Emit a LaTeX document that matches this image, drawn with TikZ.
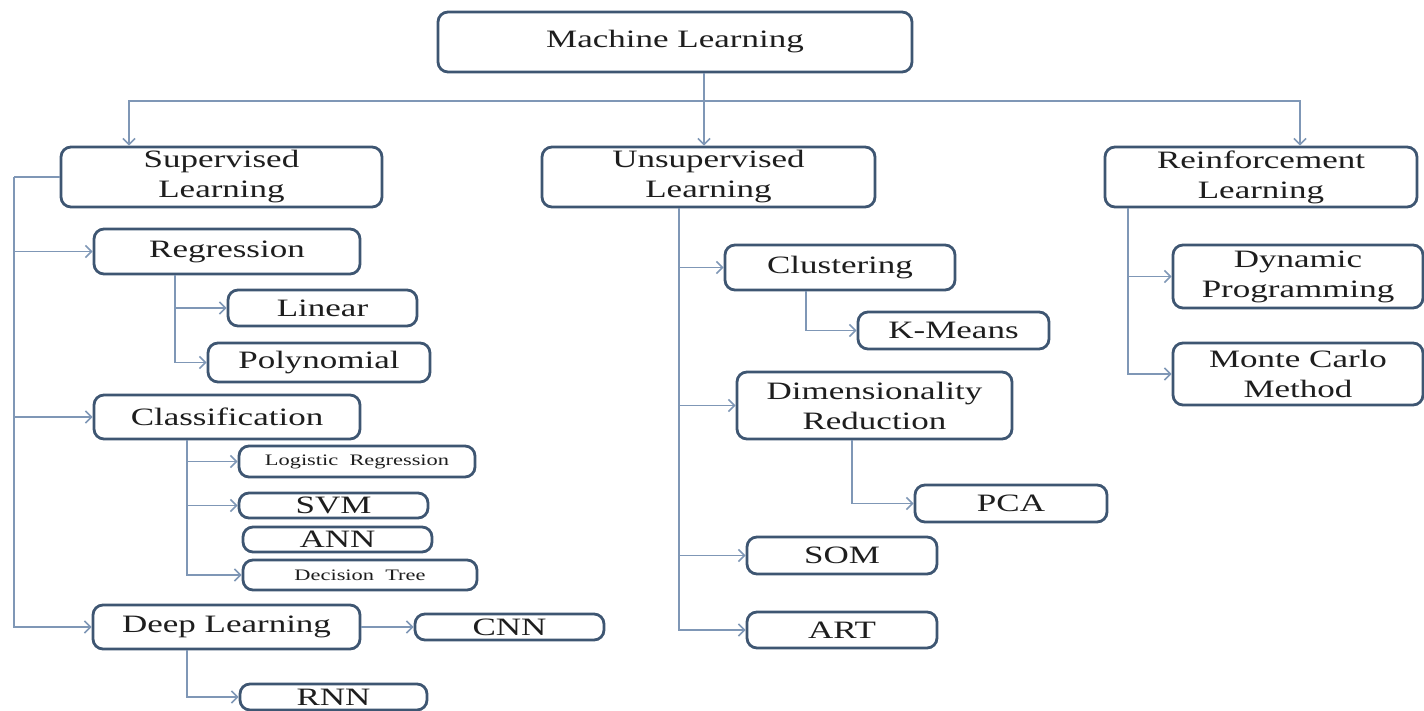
\documentclass[tikz,border=0pt]{standalone}
\usepackage{fontspec}
\setmainfont{Liberation Serif}[FakeStretch=1.4]
\usetikzlibrary{positioning}
\usetikzlibrary{arrows.meta}
\definecolor{boxline}{HTML}{3E5672}
\definecolor{connline}{HTML}{7F97B6}
\definecolor{txt}{HTML}{1E1E1E}

\begin{document}
\begin{tikzpicture}[x = 0.5pt, y = -0.5pt,
					box/.style = {draw = boxline, line width = 1.4pt, rounded corners = 5pt, fill = white, text = txt, inner sep = 0pt, align = center, font = \fontsize{12.5}{15}\selectfont},
					smallbox/.style = {box, font = \fontsize{8}{10}\selectfont},
					conn/.style = {draw = connline, line width = 0.8pt},
					tip/.style = {conn, -{Straight Barb[length = 3pt, width = 6pt]}}]
					\useasboundingbox (0, 0) rectangle (1424, 711);
					% top level
					\node [box, minimum width = 237pt, minimum height = 30pt] (ml) at (675, 42) {Machine Learning};
					\node [box, minimum width = 160.5pt, minimum height = 30pt] (sl) at (221.5, 177) {Supervised\\Learning};
					\node [box, minimum width = 166.5pt, minimum height = 30pt] (ul) at (708.5, 177) {Unsupervised\\Learning};
					\node [box, minimum width = 156pt, minimum height = 30pt] (rl) at (1261, 177) {Reinforcement\\Learning};
					% supervised
					\node [box, minimum width = 133pt, minimum height = 22.5pt] (reg) at (227, 251.5) {Regression};
					\node [box, minimum width = 94.5pt, minimum height = 18pt] (lin) at (322.5, 308) {Linear};
					\node [box, minimum width = 111pt, minimum height = 19.5pt] (poly) at (319, 362.5) {Polynomial};
					\node [box, minimum width = 133pt, minimum height = 22pt] (cls) at (227, 417) {Classification};
					\node [smallbox, minimum width = 118pt, minimum height = 15.5pt] (logr) at (357, 461.5) {Logistic~~Regression};
					\node [box, minimum width = 94.5pt, minimum height = 12.5pt] (svm) at (333.5, 505.5) {SVM};
					\node [box, minimum width = 94.5pt, minimum height = 12.5pt] (ann) at (337.5, 539.5) {ANN};
					\node [smallbox, minimum width = 117pt, minimum height = 15pt] (dt) at (360, 575) {Decision~~Tree};
					\node [box, minimum width = 133.5pt, minimum height = 22pt] (dl) at (226.5, 627) {Deep Learning};
					\node [box, minimum width = 94.5pt, minimum height = 13pt] (cnn) at (509.5, 627) {CNN};
					\node [box, minimum width = 93.5pt, minimum height = 13pt] (rnn) at (333.5, 697) {RNN};
					% unsupervised
					\node [box, minimum width = 115pt, minimum height = 22.5pt] (clu) at (840, 267.5) {Clustering};
					\node [box, minimum width = 95.5pt, minimum height = 18.5pt] (km) at (953.5, 330.5) {K-Means};
					\node [box, minimum width = 137.5pt, minimum height = 33.5pt] (dr) at (874.5, 405.5) {Dimensionality\\Reduction};
					\node [box, minimum width = 96pt, minimum height = 18.5pt] (pca) at (1011, 503.5) {PCA};
					\node [box, minimum width = 95pt, minimum height = 18.5pt] (som) at (842, 555.5) {SOM};
					\node [box, minimum width = 95pt, minimum height = 18pt] (art) at (842, 630) {ART};
					% reinforcement
					\node [box, minimum width = 125pt, minimum height = 31.5pt] (dp) at (1298, 276.5) {Dynamic\\Programming};
					\node [box, minimum width = 125pt, minimum height = 31pt] (mc) at (1298, 374) {Monte Carlo\\Method};
					% connectors
					\coordinate (hbar) at (704, 101);
					\draw [tip] (704, 0 |- ml.south) -- (704, 0 |- ul.north);
					\draw [tip] (hbar) -| (129, 0 |- sl.north);
					\draw [tip] (hbar) -| (1300, 0 |- rl.north);
					\coordinate (strunk) at (14, 0 |- sl.west);
					\draw [conn] (sl.west) -- (strunk);
					\draw [tip] (strunk) |- (reg.west);
					\draw [tip] (strunk) |- (cls.west);
					\draw [tip] (strunk) |- (dl.west);
					\draw [tip] (175, 0 |- reg.south) |- (lin.west);
					\draw [tip] (175, 0 |- reg.south) |- (poly.west);
					\draw [tip] (187, 0 |- cls.south) |- (logr.west);
					\draw [tip] (187, 0 |- cls.south) |- (svm.west);
					\draw [tip] (187, 0 |- cls.south) |- (dt.west);
					\draw [tip] (dl.east) -- (cnn.west);
					\draw [tip] (187, 0 |- dl.south) |- (rnn.west);
					\draw [tip] (679, 0 |- ul.south) |- (clu.west);
					\draw [tip] (679, 0 |- ul.south) |- (dr.west);
					\draw [tip] (679, 0 |- ul.south) |- (som.west);
					\draw [tip] (679, 0 |- ul.south) |- (art.west);
					\draw [tip] (806, 0 |- clu.south) |- (km.west);
					\draw [tip] (852, 0 |- dr.south) |- (pca.west);
					\draw [tip] (1128, 0 |- rl.south) |- (dp.west);
					\draw [tip] (1128, 0 |- rl.south) |- (mc.west);
				\end{tikzpicture}
\end{document}
